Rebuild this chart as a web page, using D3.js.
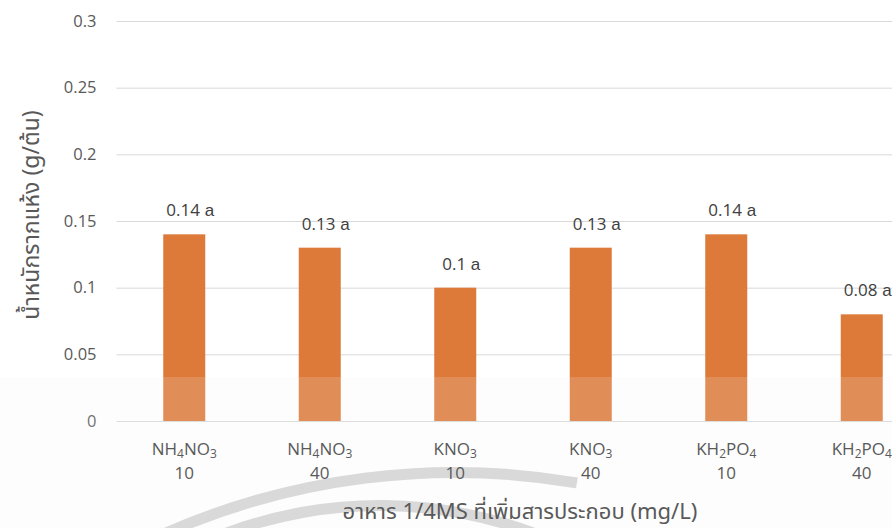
<!DOCTYPE html>
<html><head><meta charset="utf-8">
<script src="https://cdn.jsdelivr.net/npm/d3@7"></script>
<style>html,body{margin:0;padding:0;background:#fff;overflow:hidden}</style>
</head><body>
<svg id="chart" width="892" height="528"></svg>
<script>
// compound formulas as [text, isSubscript] parts
const compounds = [
  [["NH",0],["4",1],["NO",0],["3",1]],
  [["NH",0],["4",1],["NO",0],["3",1]],
  [["KNO",0],["3",1]],
  [["KNO",0],["3",1]],
  [["KH",0],["2",1],["PO",0],["4",1]],
  [["KH",0],["2",1],["PO",0],["4",1]]
];
const concentrations = ["10","40","10","40","10","40"];
const values = [0.14, 0.13, 0.10, 0.13, 0.14, 0.08];
const valueLabels = ["0.14","0.13","0.1","0.13","0.14","0.08"];
const letters = ["a","a","a","a","a","a"];
const yTicks = [0, 0.05, 0.1, 0.15, 0.2, 0.25, 0.3];
const yTickLabels = ["0","0.05","0.1","0.15","0.2","0.25","0.3"];
const yTitle = "น้ำหนักรากแห้ง (g/ต้น)";
const xTitle = "อาหาร 1/4MS ที่เพิ่มสารประกอบ (mg/L)";

const svg = d3.select("#chart");
const W = 892, H = 528;
const plotLeft = 116.5, plotTop = 21, plotBottom = 421, step = 135.5;
const idx = d3.range(values.length);
const x = d3.scaleBand().domain(idx).range([plotLeft, plotLeft + step * idx.length]).paddingInner(0.69).paddingOuter(0.345);
const y = d3.scaleLinear().domain([0, 0.3]).range([plotBottom, plotTop]);
const fontNum = "'Open Sans', 'Noto Sans', sans-serif";
const fontThai = "'Noto Sans Thai', 'Noto Sans', 'Open Sans', sans-serif";

// gridlines
const yAxis = d3.axisLeft(y).tickValues(yTicks).tickSize(-(W - plotLeft)).tickFormat((d, i) => yTickLabels[i]).tickPadding(20);
const ga = svg.append("g").attr("transform", `translate(${plotLeft},0)`).call(yAxis);
ga.select(".domain").remove();
ga.selectAll(".tick line").attr("stroke", "#d9d9d9").attr("stroke-width", 1);
ga.selectAll(".tick text").attr("fill", "#595959").style("font-family", fontNum).style("font-size", "16.5px");

// bars
svg.append("g").selectAll("rect").data(idx).join("rect")
  .attr("x", i => x(i)).attr("width", x.bandwidth())
  .attr("y", i => y(values[i])).attr("height", i => y(0) - y(values[i]))
  .attr("fill", "#dd7a3a");

// watermark
const wm = svg.append("g");
wm.append("rect").attr("x", 0).attr("y", 377).attr("width", W).attr("height", H - 377)
  .attr("fill", "#f0f0f0").attr("opacity", 0.16);
const arc1 = d3.arc().innerRadius(715).outerRadius(726).startAngle(-0.42).endAngle(0.17);
const arc2 = d3.arc().innerRadius(435).outerRadius(446).startAngle(-0.36).endAngle(0.38);
wm.append("path").attr("d", arc1()).attr("transform", "translate(455,1193)").attr("fill", "#a8a8a8").attr("opacity", 0.42);
wm.append("path").attr("d", arc2()).attr("transform", "translate(380,946)").attr("fill", "#a8a8a8").attr("opacity", 0.42);

// value labels
const vl = svg.append("g").selectAll("text").data(idx).join("text")
  .attr("x", i => x(i) + x.bandwidth() / 2 + 6)
  .attr("y", i => y(values[i]) - 18)
  .attr("text-anchor", "middle")
  .attr("fill", "#404040")
  .style("font-size", "17px");
vl.append("tspan").style("font-family", fontNum).text(i => valueLabels[i]);
vl.append("tspan").style("font-family", "'Liberation Sans', Arial, sans-serif").text(i => " " + letters[i]);

// category labels
const cl = svg.append("g").selectAll("g").data(idx).join("g");
const line1 = cl.append("text")
  .attr("x", i => x(i) + x.bandwidth() / 2)
  .attr("y", 455)
  .attr("text-anchor", "middle")
  .attr("fill", "#595959")
  .style("font-family", fontNum).style("font-size", "17px");
line1.each(function(i) {
  const t = d3.select(this);
  compounds[i].forEach(([s, sub], k) => {
    const ts = t.append("tspan").text(s);
    if (sub) ts.style("font-size", "12px").attr("dy", 3);
    else if (k > 0 && compounds[i][k - 1][1]) ts.attr("dy", -3);
  });
});
cl.append("text")
  .attr("x", i => x(i) + x.bandwidth() / 2)
  .attr("y", 479)
  .attr("text-anchor", "middle")
  .attr("fill", "#595959")
  .style("font-family", fontNum).style("font-size", "17px")
  .text(i => concentrations[i]);

// axis titles
svg.append("text")
  .attr("transform", `translate(39,${(plotTop + plotBottom) / 2 - 6}) rotate(-90)`)
  .attr("text-anchor", "middle")
  .attr("fill", "#595959")
  .style("font-family", fontThai).style("font-size", "23px")
  .text(yTitle);
svg.append("text")
  .attr("x", 520).attr("y", 519)
  .attr("text-anchor", "middle")
  .attr("fill", "#595959")
  .style("font-family", fontThai).style("font-size", "22px")
  .text(xTitle);
</script>
</body></html>
